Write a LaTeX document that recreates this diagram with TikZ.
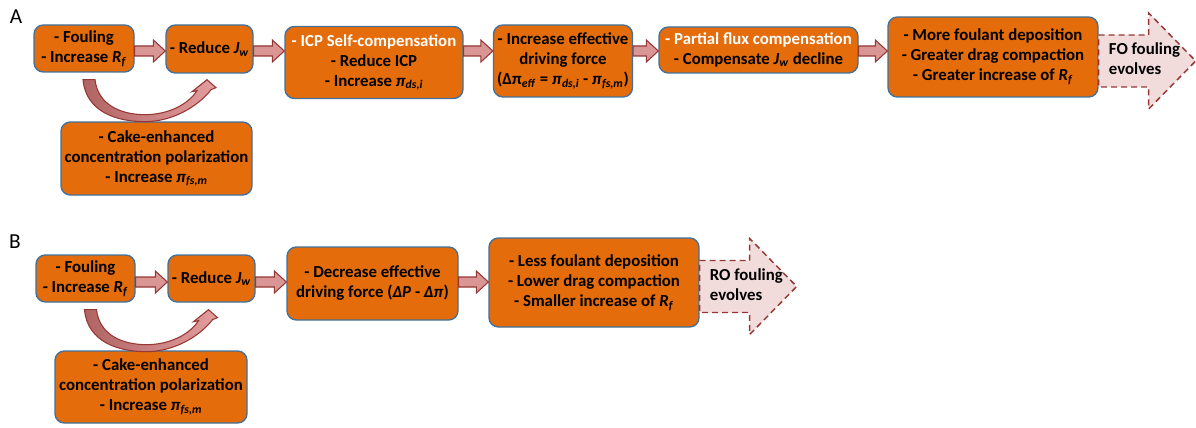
\documentclass[tikz,border=0pt]{standalone}
\usepackage{fontspec}
\setmainfont{Carlito}
\usepackage{tikz}
\usetikzlibrary{calc}
\definecolor{boxorange}{RGB}{228,108,10}
\definecolor{boxblue}{RGB}{65,113,156}
\definecolor{arrowpink}{RGB}{217,150,148}
\definecolor{arrowred}{RGB}{149,55,53}
\definecolor{evolvepink}{RGB}{242,220,219}
\definecolor{cakedark}{RGB}{176,100,100}
\definecolor{cakelight}{RGB}{228,158,158}

\newcommand{\ital}[1]{\textit{#1}}
\newcommand{\sub}[1]{\textsubscript{\textit{#1}}}

% fat block arrow from box #1 to box #2, along row #3
\newcommand{\fatarrow}[3]{%
  \draw[fatarr] ($(#1.east|-#3)+(0,-5)$) -- ($(#2.west|-#3)+(-12,-5)$)
    -- ($(#2.west|-#3)+(-12,-11)$) -- (#2.west|-#3)
    -- ($(#2.west|-#3)+(-12,11)$) -- ($(#2.west|-#3)+(-12,5)$)
    -- ($(#1.east|-#3)+(0,5)$) -- cycle;}

% curved feedback arrow under box #1
\newcommand{\cakearrow}[1]{%
  \draw[cakearr, shift={(#1.south)}] (-1,7) -- (11,7)
    .. controls (14,33) and (38,42) .. (61,42)
    .. controls (84,42) and (104,32) .. (113,18)
    -- (108,19) -- (123,7) -- (132,15) -- (127,17)
    .. controls (114,34) and (88,49) .. (61,49)
    .. controls (34,49) and (2,40) .. (-1,7) -- cycle;}

% dashed outcome arrow after box #1
\newcommand{\evolvearrow}[3]{%
  \coordinate (#2) at ($(#1.east)+(0,4)$);
  \draw[evolvearr] ($(#2)+(0,-26)$) -- ($(#2)+(50,-26)$) -- ($(#2)+(50,-48)$)
    -- ($(#2)+(97,0)$) -- ($(#2)+(50,48)$) -- ($(#2)+(50,26)$)
    -- ($(#2)+(0,26)$) -- cycle;
  \node[evolvetxt] (#2txt) at ($(#2)+(10,-2)$) {#3};}

\begin{document}
\begin{tikzpicture}[x=0.75pt, y=-0.75pt,
  box/.style={draw=boxblue, line width=1pt, fill=boxorange,
    rounded corners=7pt, align=center, inner sep=2pt,
    font=\fontsize{12.6}{15}\selectfont\bfseries},
  boxsize/.style 2 args={minimum width=#1*0.75pt, minimum height=#2*0.75pt},
  fatarr/.style={draw=arrowred, line width=0.8pt, fill=arrowpink, line join=miter},
  cakearr/.style={draw=arrowred, line width=0.8pt, left color=cakedark, right color=cakelight},
  evolvearr/.style={draw=arrowred, line width=1.1pt, fill=evolvepink,
    dash pattern=on 4.5pt off 3pt},
  evolvetxt/.style={anchor=west, align=left, inner sep=0pt,
    font=\fontsize{12.6}{15}\selectfont\bfseries},
  panel/.style={font=\fontsize{16}{18}\selectfont}]
\useasboundingbox (0,0) rectangle (1196,428);

% ---- panel A ----
\node[panel] (labA) at (16,17) {A};
\coordinate (rowA) at (0,51);
\node[box, boxsize={100}{47}] (A1) at (84,48.5)
  {- Fouling\\- Increase \ital{R}\sub{f}};
\node[box, boxsize={87}{48}] (A2) at (209.5,49)
  {- Reduce \ital{J}\sub{w}};
\node[box, boxsize={178}{72}] (A3) at (374,62.5)
  {\textcolor{white}{- ICP Self-compensation}\\- Reduce ICP\\- Increase \ital{π}\sub{ds,i}};
\node[box, boxsize={139}{72}] (A4) at (563,61)
  {- Increase effective\\driving force\\(Δπ\sub{eff} = \ital{π}\sub{ds,i} - \ital{π}\sub{fs,m})};
\node[box, boxsize={199}{46}] (A5) at (758.5,50)
  {\textcolor{white}{- Partial flux compensation}\\- Compensate \ital{J}\sub{w} decline};
\node[box, boxsize={210}{80}] (A6) at (993,57)
  {- More foulant deposition\\- Greater drag compaction\\- Greater increase of \ital{R}\sub{f}};
\node[box, boxsize={191}{73}] (A7) at (156.5,158.5)
  {- Cake-enhanced\\concentration polarization\\- Increase \ital{π}\sub{fs,m}};

\fatarrow{A1}{A2}{rowA}
\fatarrow{A2}{A3}{rowA}
\fatarrow{A3}{A4}{rowA}
\fatarrow{A4}{A5}{rowA}
\fatarrow{A5}{A6}{rowA}
\cakearrow{A1}
\evolvearrow{A6}{FO}{FO fouling\\evolves}

% ---- panel B ----
\node[panel] (labB) at (15,241.5) {B};
\coordinate (rowB) at (0,282);
\node[box, boxsize={99}{47}] (B1) at (85.5,278.5)
  {- Fouling\\- Increase \ital{R}\sub{f}};
\node[box, boxsize={87}{47}] (B2) at (211.5,278.5)
  {- Reduce \ital{J}\sub{w}};
\node[box, boxsize={171}{73}] (B3) at (372.5,283.5)
  {- Decrease effective\\driving force (\ital{ΔP} - \ital{Δπ})};
\node[box, boxsize={210}{89}] (B4) at (594,282.5)
  {- Less foulant deposition\\- Lower drag compaction\\- Smaller increase of \ital{R}\sub{f}};
\node[box, boxsize={192}{72}] (B7) at (151,387)
  {- Cake-enhanced\\concentration polarization\\- Increase \ital{π}\sub{fs,m}};

\fatarrow{B1}{B2}{rowB}
\fatarrow{B2}{B3}{rowB}
\fatarrow{B3}{B4}{rowB}
\cakearrow{B1}
\evolvearrow{B4}{RO}{RO fouling\\evolves}
\end{tikzpicture}
\end{document}
